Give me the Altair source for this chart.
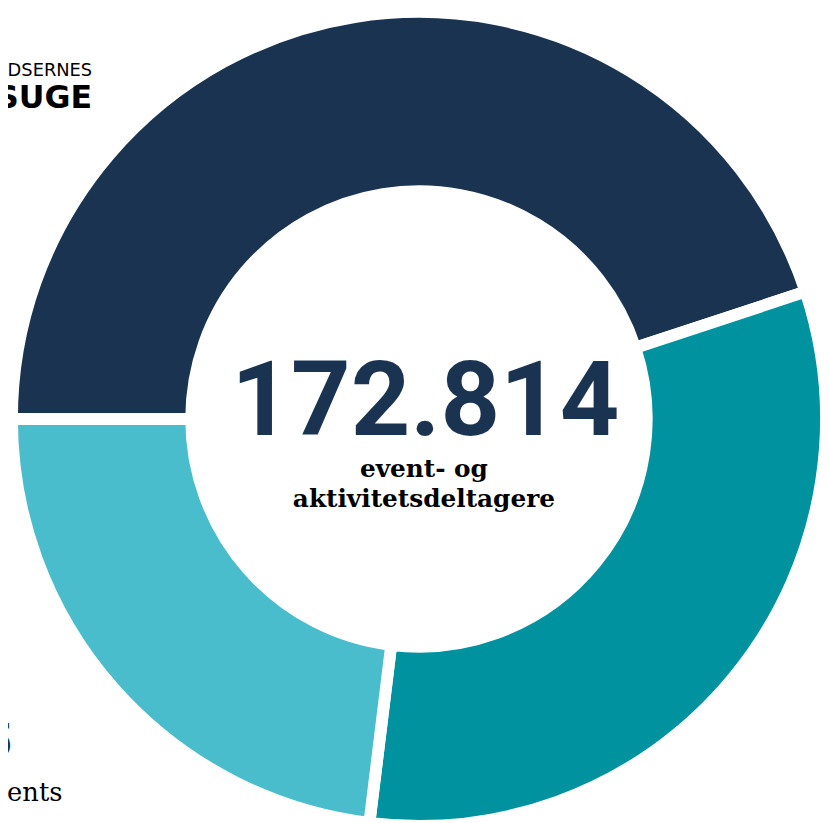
import math
import altair as alt
import pandas as pd

# Segments (clockwise from 9 o'clock)
categories = ["Deltagere i aktiviteter", "Deltagere i lokale aktiviteter", "Deltagere i events"]
values = [77661, 55308, 39845]
colors = ["#1A3350", "#00929F", "#49BDCB"]

total_text = ["172.814"]
center_lines = ["event- og", "aktivitetsdeltagere"]
logo_small = ["DSERNES"]
logo_big = ["SUGE"]
navy_label = ["77.661"]
navy_sub = ["deltagere"]
light_label = ["39.845"]
light_sub = ["deltagere i events"]

NAVY = "#1A3350"
CX, CY = 415, 411

df = pd.DataFrame({"category": categories, "value": values, "idx": list(range(len(values)))})

start = 1.5 * math.pi
arc = alt.Chart(df).mark_arc(outerRadius=411, innerRadius=230, stroke="white", strokeWidth=12).encode(
    theta=alt.Theta("value:Q", stack=True, scale=alt.Scale(range=[start, start + 2 * math.pi])),
    color=alt.Color("category:N", scale=alt.Scale(domain=categories, range=colors), legend=None),
    order=alt.Order("idx:Q"),
    x=alt.value(CX),
    y=alt.value(CY),
)


def txt(lines, x, y, size, font, weight="normal", color="black", align="center"):
    return alt.Chart(pd.DataFrame({"t": lines})).mark_text(
        font=font, fontSize=size, fontWeight=weight, color=color, align=align, baseline="alphabetic"
    ).encode(text="t:N", x=alt.value(x), y=alt.value(y))


total = txt(total_text, 421.5, 427, 105, "Roboto", "bold", NAVY)
line1 = txt(center_lines[:1], 420, 470, 25, "DejaVu Serif", "bold")
line2 = txt(center_lines[1:], 420, 500, 25, "DejaVu Serif", "bold")
logo1 = txt(logo_small, 85, 65, 18, "DejaVu Sans", "normal", "black", "right")
logo2 = txt(logo_big, 85, 97, 32, "DejaVu Sans", "bold", "black", "right")
nl = txt(navy_label, -1, 164, 48, "Roboto", "bold", NAVY, "right")
ns = txt(navy_sub, 0, 205, 26, "DejaVu Serif", "normal", "black", "right")
ll = txt(light_label, 4, 752, 48, "Roboto", "bold", NAVY, "right")
ls = txt(light_sub, 55, 797, 26, "DejaVu Serif", "normal", "black", "right")

chart = alt.layer(arc, total, line1, line2, logo1, logo2, nl, ns, ll, ls).properties(
    width=821, height=815, autosize=alt.AutoSizeParams(type="none"), padding=0, background="white"
).configure_view(stroke=None)

chart.save("out.html", embed_options={"renderer": "svg", "actions": False})
